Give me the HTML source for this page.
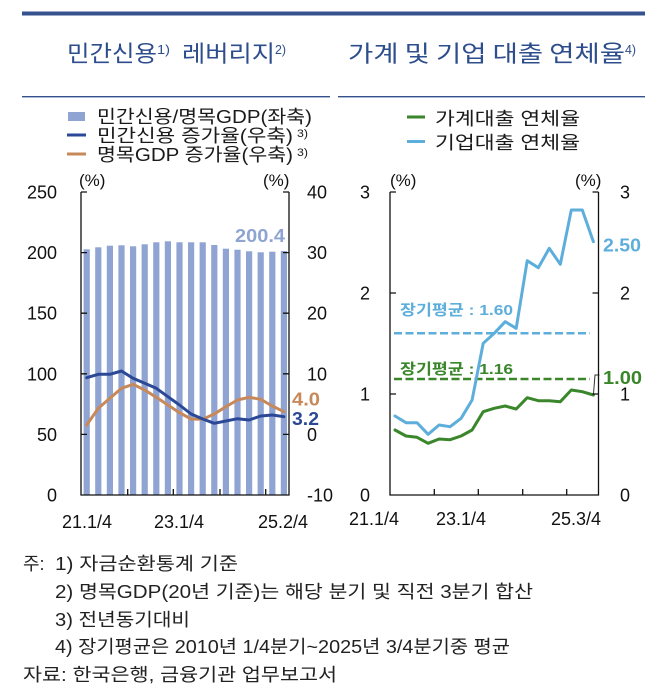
<!DOCTYPE html>
<html><head><meta charset="utf-8"><style>
html,body{margin:0;padding:0;background:#fff;}
svg{display:block;}
text{font-family:"Liberation Sans","Noto Sans CJK KR",sans-serif;}
.k{font-family:"Noto Sans CJK KR","Liberation Sans",sans-serif;}
</style></head><body>
<svg width="670" height="698" viewBox="0 0 670 698" xmlns="http://www.w3.org/2000/svg">
<rect width="670" height="698" fill="#fff"/>
<!-- header lines -->
<rect x="22" y="11.5" width="623" height="4" fill="#35528f"/>
<rect x="22" y="96" width="308" height="1.4" fill="#35528f"/>
<rect x="338" y="96" width="307" height="1.4" fill="#35528f"/>
<!-- titles -->
<g fill="#2d4d8c" class="k">
<text class="k" x="67" y="61.5" font-size="23" textLength="90" lengthAdjust="spacingAndGlyphs">민간신용</text>
<text x="157" y="54" font-size="13" textLength="13" lengthAdjust="spacingAndGlyphs">1)</text>
<text class="k" x="182" y="61.5" font-size="23" textLength="93" lengthAdjust="spacingAndGlyphs">레버리지</text>
<text x="275" y="54" font-size="13" textLength="11" lengthAdjust="spacingAndGlyphs">2)</text>
<text class="k" x="348" y="61.5" font-size="23" textLength="277" lengthAdjust="spacingAndGlyphs">가계 및 기업 대출 연체율</text>
<text x="625" y="54" font-size="13" textLength="11" lengthAdjust="spacingAndGlyphs">4)</text>
</g>
<!-- left legend -->
<rect x="68" y="112" width="17" height="9" fill="#8fa4d3"/>
<line x1="67" y1="135" x2="86" y2="135" stroke="#2b4896" stroke-width="3"/>
<line x1="67" y1="154" x2="86" y2="154" stroke="#c8895a" stroke-width="3"/>
<g fill="#1a1a1a">
<text x="97" y="123" font-size="18" textLength="215" lengthAdjust="spacingAndGlyphs">민간신용/명목GDP(좌축)</text>
<text x="97" y="142" font-size="18" textLength="196" lengthAdjust="spacingAndGlyphs">민간신용 증가율(우축)</text>
<text x="297" y="137" font-size="11" textLength="11" lengthAdjust="spacingAndGlyphs">3)</text>
<text x="97" y="161" font-size="18" textLength="196" lengthAdjust="spacingAndGlyphs">명목GDP 증가율(우축)</text>
<text x="297" y="156" font-size="11" textLength="11" lengthAdjust="spacingAndGlyphs">3)</text>
</g>
<!-- right legend -->
<line x1="407" y1="117" x2="425" y2="117" stroke="#3a862a" stroke-width="3"/>
<line x1="407" y1="141.5" x2="425" y2="141.5" stroke="#5eaedb" stroke-width="3"/>
<g fill="#1a1a1a">
<text x="435" y="125" font-size="18" textLength="145" lengthAdjust="spacingAndGlyphs">가계대출 연체율</text>
<text x="435" y="149" font-size="18" textLength="145" lengthAdjust="spacingAndGlyphs">기업대출 연체율</text>
</g>

<!-- LEFT CHART -->
<g fill="#8fa4d3">
<rect x="83.6" y="249.3" width="6.2" height="245.7"/>
<rect x="95.2" y="247.3" width="6.2" height="247.7"/>
<rect x="106.8" y="245.7" width="6.2" height="249.3"/>
<rect x="118.4" y="245.3" width="6.2" height="249.7"/>
<rect x="130" y="246.3" width="6.2" height="248.7"/>
<rect x="141.6" y="244.3" width="6.2" height="250.7"/>
<rect x="153.2" y="242.3" width="6.2" height="252.7"/>
<rect x="164.8" y="241.3" width="6.2" height="253.7"/>
<rect x="176.4" y="242.3" width="6.2" height="252.7"/>
<rect x="188" y="242.3" width="6.2" height="252.7"/>
<rect x="199.6" y="242.3" width="6.2" height="252.7"/>
<rect x="211.2" y="245" width="6.2" height="250"/>
<rect x="222.8" y="248.7" width="6.2" height="246.3"/>
<rect x="234.4" y="249.7" width="6.2" height="245.3"/>
<rect x="246" y="251.3" width="6.2" height="243.7"/>
<rect x="257.6" y="252.3" width="6.2" height="242.7"/>
<rect x="269.2" y="251.7" width="6.2" height="243.3"/>
<rect x="280.8" y="251" width="6.2" height="244"/>
</g>
<polyline fill="none" stroke="#c8895a" stroke-width="3" stroke-linejoin="round" stroke-linecap="round"
points="86.7,425 98.3,408.3 109.9,398.3 121.5,388.3 133.1,384.3 144.7,390 156.3,397.3 167.9,405 179.5,412.7 191.1,419 202.7,419.3 214.3,414 225.9,406.7 237.5,400 249.1,397.3 260.7,399.3 272.3,406 283.9,411.7"/>
<polyline fill="none" stroke="#2b4896" stroke-width="3" stroke-linejoin="round" stroke-linecap="round"
points="86.7,377.7 98.3,374.3 109.9,374.3 121.5,371 133.1,378.3 144.7,383.3 156.3,388.3 167.9,396.7 179.5,405 191.1,414 202.7,419 214.3,423.3 225.9,421 237.5,418.7 249.1,420 260.7,416 272.3,415 283.9,416.7"/>
<g stroke="#111" stroke-width="1.3" fill="none">
<polyline points="81,192 81,495 289,495 289,192"/>
<path d="M81,192h6M81,252.6h6M81,313.2h6M81,373.8h6M81,434.4h6"/>
<path d="M289,192h-6M289,252.6h-6M289,313.2h-6M289,373.8h-6M289,434.4h-6"/>
<path d="M127.7,495v-6M173.3,495v-6M220,495v-6M265.7,495v-6"/>
</g>
<g fill="#111" font-size="18">
<text x="57" y="198.5" text-anchor="end">250</text>
<text x="57" y="259" text-anchor="end">200</text>
<text x="57" y="319.7" text-anchor="end">150</text>
<text x="57" y="380.3" text-anchor="end">100</text>
<text x="57" y="441" text-anchor="end">50</text>
<text x="57" y="501.5" text-anchor="end">0</text>
<text x="307" y="198.5">40</text>
<text x="307" y="259">30</text>
<text x="307" y="319.7">20</text>
<text x="307" y="380.3">10</text>
<text x="307" y="441">0</text>
<text x="307" y="501.5">-10</text>
<text x="87" y="528" text-anchor="middle">21.1/4</text>
<text x="179" y="528" text-anchor="middle">23.1/4</text>
<text x="283" y="528" text-anchor="middle">25.2/4</text>
<text x="79" y="186" font-size="17">(%)</text>
<text x="263" y="186" font-size="17">(%)</text>
</g>
<g font-weight="bold" font-size="18">
<text x="235" y="242" fill="#8fa4d3" textLength="50" lengthAdjust="spacingAndGlyphs">200.4</text>
<text x="292" y="405.5" fill="#c8895a" textLength="28" lengthAdjust="spacingAndGlyphs">4.0</text>
<text x="292" y="425" fill="#2b4896" textLength="27" lengthAdjust="spacingAndGlyphs">3.2</text>
</g>

<!-- RIGHT CHART -->
<line x1="394" y1="333.3" x2="590" y2="333.3" stroke="#5eaedb" stroke-width="2.5" stroke-dasharray="8,3.5"/>
<line x1="394" y1="379" x2="590" y2="379" stroke="#3a862a" stroke-width="2.5" stroke-dasharray="8,3.5"/>
<polyline fill="none" stroke="#5eaedb" stroke-width="3" stroke-linejoin="round" stroke-linecap="round"
points="395,416 406,422.7 417,422.7 428.1,434.3 439.1,425 450.1,426.7 461.1,418.3 472.1,400 483.2,343.3 494.2,333.3 505.2,321.7 516.2,328.3 527.2,260.7 538.3,267.7 549.3,248.3 560.3,264.3 571.3,210 582.3,210 593.4,241.7"/>
<polyline fill="none" stroke="#3a862a" stroke-width="3" stroke-linejoin="round" stroke-linecap="round"
points="395,430 406,436 417,437.3 428.1,443.3 439.1,439 450.1,439.7 461.1,436 472.1,430 483.2,411.7 494.2,408.3 505.2,406 516.2,409 527.2,397.7 538.3,400.7 549.3,400.7 560.3,401.7 571.3,390 582.3,391.7 593.4,395"/>
<polyline fill="none" stroke="#333" stroke-width="1" points="593.4,395 595,375 599.5,375"/>
<g stroke="#111" stroke-width="1.3" fill="none">
<polyline points="390,192 390,495 598.5,495 598.5,192"/>
<path d="M390,192h6M390,293h6M390,394h6"/>
<path d="M598.5,192h-6M598.5,293h-6M598.5,394h-6"/>
<path d="M434.3,495v-6M478.3,495v-6M522.7,495v-6M566.7,495v-6"/>
</g>
<g fill="#111" font-size="18">
<text x="370" y="198.5" text-anchor="end">3</text>
<text x="370" y="299.5" text-anchor="end">2</text>
<text x="370" y="400.5" text-anchor="end">1</text>
<text x="370" y="501.5" text-anchor="end">0</text>
<text x="620" y="198.5">3</text>
<text x="620" y="299.5">2</text>
<text x="620" y="400.5">1</text>
<text x="620" y="501.5">0</text>
<text x="374" y="525" text-anchor="middle">21.1/4</text>
<text x="461" y="525" text-anchor="middle">23.1/4</text>
<text x="576" y="525" text-anchor="middle">25.3/4</text>
<text x="390" y="186" font-size="17">(%)</text>
<text x="575" y="186" font-size="17">(%)</text>
</g>
<g font-weight="bold">
<text x="400" y="315" font-size="15" fill="#5eaedb" textLength="113" lengthAdjust="spacingAndGlyphs">장기평균 : 1.60</text>
<text x="400" y="374" font-size="15" fill="#3a862a" textLength="113" lengthAdjust="spacingAndGlyphs">장기평균 : 1.16</text>
<text x="603" y="251.5" font-size="18" fill="#5eaedb" textLength="38" lengthAdjust="spacingAndGlyphs">2.50</text>
<text x="603" y="384" font-size="18" fill="#3a862a" textLength="39" lengthAdjust="spacingAndGlyphs">1.00</text>
</g>

<!-- footnotes -->
<g fill="#222" font-size="18">
<text x="23" y="570">주:</text>
<text x="55" y="570" textLength="183" lengthAdjust="spacingAndGlyphs">1) 자금순환통계 기준</text>
<text x="55" y="598" textLength="478" lengthAdjust="spacingAndGlyphs">2) 명목GDP(20년 기준)는 해당 분기 및 직전 3분기 합산</text>
<text x="55" y="626" textLength="135" lengthAdjust="spacingAndGlyphs">3) 전년동기대비</text>
<text x="55" y="653" textLength="455" lengthAdjust="spacingAndGlyphs">4) 장기평균은 2010년 1/4분기~2025년 3/4분기중 평균</text>
<text x="23" y="681" textLength="314" lengthAdjust="spacingAndGlyphs">자료: 한국은행, 금융기관 업무보고서</text>
</g>
</svg>
</body></html>
